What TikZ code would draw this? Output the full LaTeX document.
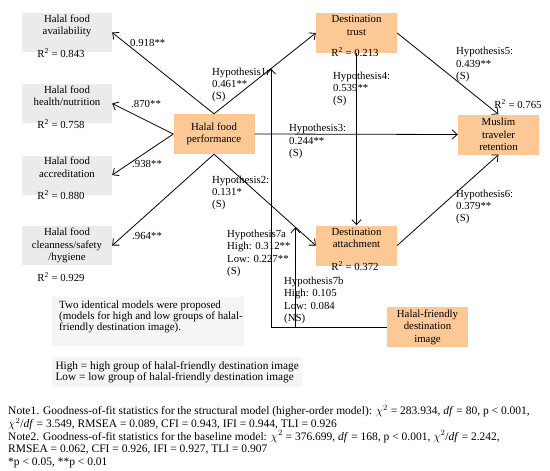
\documentclass[tikz,border=0pt]{standalone}
\usepackage{fontspec}
\setmainfont{Liberation Serif}
\usepackage{tikz}
\usetikzlibrary{arrows.meta}

\definecolor{boxorange}{RGB}{251,200,150}
\definecolor{boxgrey}{RGB}{235,235,235}
\definecolor{notegrey}{RGB}{245,245,245}

\begin{document}
\begin{tikzpicture}[x=1pt,y=-1pt,
          font=\fontsize{10.8}{12.4}\selectfont,
          gbox/.style={fill=boxgrey,minimum width=90,minimum height=39,
            align=center,inner sep=1pt},
          obox/.style={fill=boxorange,minimum width=81,minimum height=40,
            align=center,inner sep=1pt},
          lab/.style={anchor=west,align=left,inner sep=0pt},
          arr/.style={line width=0.8pt,-{Straight Barb[length=5pt,width=9pt]}}]
          \useasboundingbox (0,0) rectangle (550,471);
          %\draw[very thin,lightgray] (0,0) grid[step=50] (550,471);
          % measurement model
          \node[gbox] (avail) at (67,32.5) {Halal food\\availability\\[3pt]};
          \node[gbox] (health) at (67,103.5) {Halal food\\health/nutrition\\[3pt]};
          \node[gbox] (accred) at (67,175) {Halal food\\accreditation\\[3pt]};
          \node[gbox] (clean) at (67,245.5) {Halal food\\cleanness/safety\\/hygiene};
          \node[inner sep=0pt] (r2avail) at (61,53) {R\textsuperscript{2} = 0.843};
          \node[inner sep=0pt] (r2health) at (61,124) {R\textsuperscript{2} = 0.758};
          \node[inner sep=0pt] (r2accred) at (61,195) {R\textsuperscript{2} = 0.880};
          \node[inner sep=0pt] (r2clean) at (61,277) {R\textsuperscript{2} = 0.929};
          % structural model
          \node[obox] (perf) at (214,134) {Halal food\\performance};
          \node[obox] (trust) at (356.5,33) {Destination\\trust\\[3pt]};
          \node[obox] (attach) at (356.5,245.5) {Destination\\attachment\\[3pt]};
          \node[obox] (retent) at (498.5,134.5) {Muslim\\traveler\\retention};
          \node[obox] (image) at (427.5,327) {Halal-friendly\\destination\\image};
          \node[inner sep=0pt] (r2trust) at (355,52) {R\textsuperscript{2} = 0.213};
          \node[inner sep=0pt] (r2attach) at (355,266) {R\textsuperscript{2} = 0.372};
          \node[inner sep=0pt] (r2retent) at (518,104) {R\textsuperscript{2} = 0.765};

          \draw[arr] (perf.north) -- (avail.east);
          \draw[arr] (perf.west) -- (health.east);
          \draw[arr] (perf.west) -- (accred.east);
          \draw[arr] (perf.south) -- (clean.east);
          \draw[arr] (perf.north) -- coordinate[pos=0.56] (h1mod) (trust.west);
          \draw[arr] (perf.south) -- coordinate[pos=0.80] (h2mod) (attach.west);
          \draw[arr] (perf.east) -- (retent.west);
          \draw[arr] (trust.south) -- (attach.north);
          \draw[arr] (trust.east) -- (retent.north);
          \draw[arr] (attach.east) -- (retent.south);
          \draw[arr] (image.west) -| (h1mod);
          \draw[arr] (image.west) -| (h2mod);

          \node[lab] (l1) at (130,43) {0.918**};
          \node[lab] (l2) at (131,104) {.870**};
          \node[lab] (l3) at (132,164) {.938**};
          \node[lab] (l4) at (132,236) {.964**};
          \node[lab] (hyp1) at (212,85) {Hypothesis1:\\0.461**\\(S)};
          \node[lab] (hyp2) at (212,193) {Hypothesis2:\\0.131*\\(S)};
          \node[lab] (hyp3) at (289,141.5) {Hypothesis3:\\0.244**\\(S)};
          \node[lab] (hyp4) at (333,89) {Hypothesis4:\\0.539**\\(S)};
          \node[lab] (hyp5) at (456,64.5) {Hypothesis5:\\0.439**\\(S)};
          \node[lab] (hyp6) at (456,207) {Hypothesis6:\\0.379**\\(S)};
          \node[lab] (hyp7a) at (227,253.5) {Hypothesis7a\\High: 0.312**\\Low: 0.227**\\(S)};
          \node[lab] (hyp7b) at (284,300.5) {Hypothesis7b\\High: 0.105\\Low: 0.084\\(NS)};

          % notes
          \node[fill=notegrey,anchor=north west,minimum width=192,minimum height=49]
            (nbox) at (52,297) {};
          \node[anchor=north west,align=left,inner sep=0pt,
            font=\fontsize{11}{10.8}\selectfont] (ntext) at (59,301)
            {Two identical models were proposed\\(models for high and low groups of halal-\\friendly destination image).};
          \node[fill=notegrey,anchor=north west,minimum width=244,minimum height=30,
            align=left,font=\fontsize{11.3}{11.3}\selectfont]
            (hlbox) at (52,357)
            {High = high group of halal-friendly destination image\\Low = low group of halal-friendly destination image};
          \node[anchor=north west,align=left,inner sep=0pt,
            font=\fontsize{11.5}{12.7}\selectfont] (notes) at (8,405)
            {Note1. Goodness-of-fit statistics for the structural model (higher-order model): $\chi^2$ = 283.934, \textit{df} = 80, p < 0.001,\\
            $\chi^2$/\textit{df} = 3.549, RMSEA = 0.089, CFI = 0.943, IFI = 0.944, TLI = 0.926\\
            Note2. Goodness-of-fit statistics for the baseline model: $\chi^2$ = 376.699, \textit{df} = 168, p < 0.001, $\chi^2$/\textit{df} = 2.242,\\
            RMSEA = 0.062, CFI = 0.926, IFI = 0.927, TLI = 0.907\\
            *p < 0.05, **p < 0.01};
        \end{tikzpicture}
\end{document}
